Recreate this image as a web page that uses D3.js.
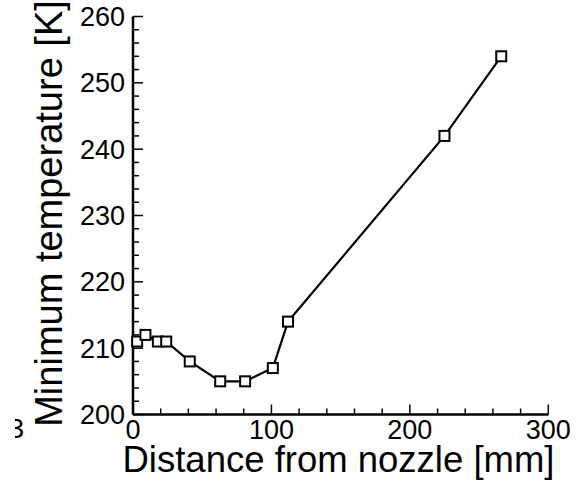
<!DOCTYPE html>
<html><head><meta charset="utf-8">
<script src="https://cdn.jsdelivr.net/npm/d3@7"></script>
<style>body{margin:0;background:#fff}svg{display:block}text{font-family:"Liberation Sans",Arial,sans-serif;fill:#000}</style>
</head><body>
<script>
const distance = [3, 9, 18, 24, 41, 63, 81, 101, 112, 225, 266];
const minTemp = [211, 212, 211, 211, 208, 205, 205, 207, 214, 242, 254];
const xTicks = [0, 100, 200, 300];
const yTicks = [200, 210, 220, 230, 240, 250, 260];
const xLabel = "Distance from nozzle [mm]";
const yLabel = "Minimum temperature [K]";

const W = 576, H = 484;
const svg = d3.select("body").append("svg").attr("width", W).attr("height", H);
const x = d3.scaleLinear().domain([0, 300]).range([133, 548.3]);
const y = d3.scaleLinear().domain([200, 260]).range([414.5, 16.5]);

// stray partial glyph from neighbouring figure
svg.append("clipPath").attr("id","cl").append("rect").attr("x",15).attr("y",400).attr("width",20).attr("height",50);
svg.append("text").attr("clip-path","url(#cl)").attr("x",24).attr("y",438).attr("text-anchor","end").style("font-size","28px").text("3");

const g = svg.append("g");
g.append("line").attr("x1", x(0)).attr("x2", x(300)).attr("y1", y(200)).attr("y2", y(200)).attr("stroke","#000").attr("stroke-width",2.5);
g.append("line").attr("x1", x(0)).attr("x2", x(0)).attr("y1", y(200)).attr("y2", y(260)).attr("stroke","#000").attr("stroke-width",2.5);

d3.range(0, 301, 20).forEach(v => {
  const major = v % 100 === 0;
  g.append("line").attr("x1", x(v)).attr("x2", x(v)).attr("y1", y(200)).attr("y2", y(200) - (major ? 10 : 6)).attr("stroke","#000").attr("stroke-width",1.5);
});
d3.range(200, 261, 2).forEach(v => {
  const major = v % 10 === 0;
  g.append("line").attr("x1", x(0)).attr("x2", x(0) + (major ? 10 : 6)).attr("y1", y(v)).attr("y2", y(v)).attr("stroke","#000").attr("stroke-width",1.5);
});

svg.selectAll(".xt").data(xTicks).enter().append("text")
  .attr("x", d => x(d)).attr("y", 439).attr("text-anchor","middle").style("font-size","27px").text(d => d);
svg.selectAll(".yt").data(yTicks).enter().append("text")
  .attr("x", 125).attr("y", d => y(d) + 9.5).attr("text-anchor","end").style("font-size","27px").text(d => d);

svg.append("text").attr("x", 338.5).attr("y", 472).attr("text-anchor","middle").style("font-size","36.5px").text(xLabel);
svg.append("text").attr("transform","translate(62,213.5) rotate(-90)").attr("text-anchor","middle").style("font-size","38px").text(yLabel);

const pts = distance.map((d,i)=>[d, minTemp[i]]);
svg.append("path").datum(pts).attr("d", d3.line().x(d=>x(d[0])).y(d=>y(d[1])))
  .attr("fill","none").attr("stroke","#000").attr("stroke-width",2.2);
svg.selectAll(".m").data(pts).enter().append("rect")
  .attr("x", d=>x(d[0])-5).attr("y", d=>y(d[1])-5).attr("width",10).attr("height",10)
  .attr("fill","#fff").attr("stroke","#000").attr("stroke-width",2);
</script>
</body></html>
